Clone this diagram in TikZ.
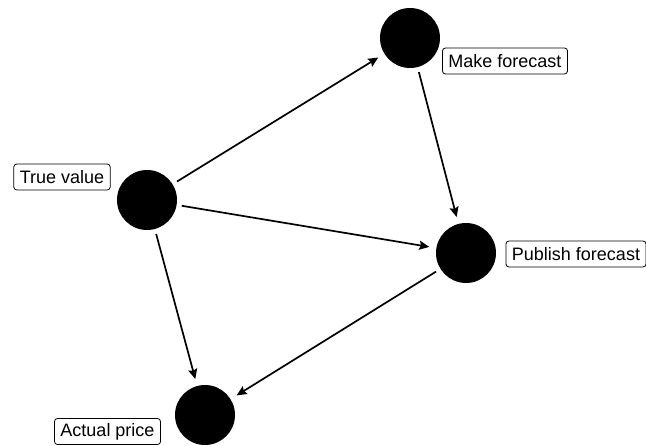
\documentclass[tikz,border=0pt]{standalone}
\usepackage{fontspec}
\setmainfont{Liberation Sans}
\usetikzlibrary{arrows.meta}
\begin{document}
\begin{tikzpicture}[x=1pt,y=-1pt,
  dot/.style={circle,fill=black,minimum size=60pt,inner sep=0pt},
  lbl/.style={draw=black,rounded corners=3pt,line width=0.8pt,inner xsep=6pt,inner ysep=0pt,minimum height=26pt,font=\fontsize{18}{20}\selectfont},
  arr/.style={-{Stealth[length=10pt,width=9pt,inset=1.5pt]},line width=1.7pt,shorten <=5pt,shorten >=7pt}]
\useasboundingbox (0,0) rectangle (646,445);
\node[dot] (mf) at (410,38) {};
\node[dot] (tv) at (147,200) {};
\node[dot] (pf) at (466,253) {};
\node[dot] (ap) at (205,415) {};
\node[lbl] (lmf) at (505,61) {Make forecast};
\node[lbl] (ltv) at (62,177) {True value};
\node[lbl] (lpf) at (576,254) {Publish forecast};
\node[lbl] (lap) at (107.5,431.5) {Actual price};
\draw[arr] (tv) -- (mf);
\draw[arr] (mf) -- (pf);
\draw[arr] (tv) -- (pf);
\draw[arr] (tv) -- (ap);
\draw[arr] (pf) -- (ap);
\end{tikzpicture}
\end{document}
